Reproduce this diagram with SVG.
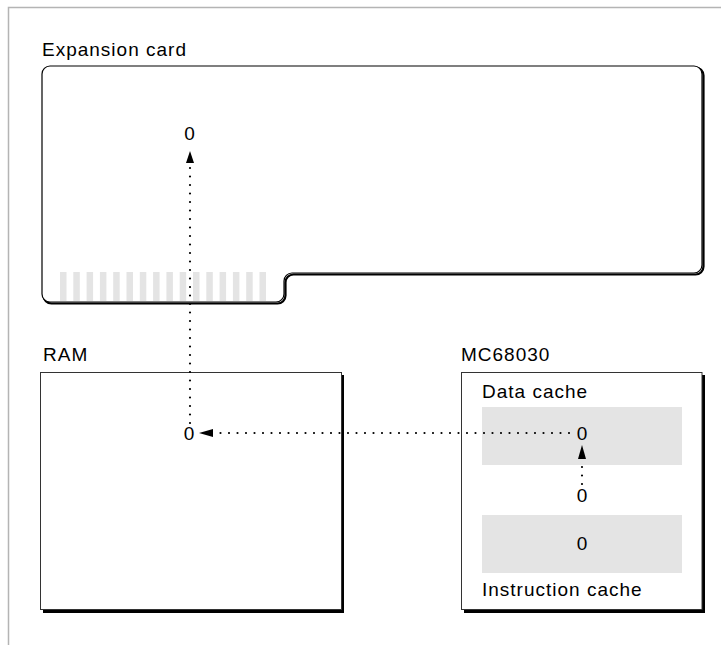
<svg xmlns="http://www.w3.org/2000/svg" width="721" height="645" viewBox="0 0 721 645">
<style>
text{font-family:"Liberation Sans",Arial,sans-serif;font-size:19px;fill:#000;letter-spacing:1px}
.num{text-anchor:middle;letter-spacing:0}
.box{fill:#fff;stroke:#333;stroke-width:1}
.shadow{fill:#000}
.shade{fill:#e4e4e4}
.stripe{fill:#e4e4e4}
.dot{fill:none;stroke:#000;stroke-width:2.2;stroke-linecap:round;stroke-dasharray:0 8.5}
</style>
<rect width="721" height="645" fill="#fff"/>
<g id="frame">
<path d="M8.5,645 V7.5 H721" fill="none" stroke="#b4b4b4" stroke-width="1.5"/>
</g>
<g id="expansion-card">
<text x="42" y="56">Expansion card</text>
<path d="M50,66 H694 A8,8 0 0 1 702,74 V265 A8,8 0 0 1 694,273 H292 A8,8 0 0 0 284,281 V294 A8,8 0 0 1 276,302 H50 A8,8 0 0 1 42,294 V74 A8,8 0 0 1 50,66 Z" transform="translate(1.5,1.5)" fill="none" stroke="#000" stroke-width="2.2"/>
<path d="M50,66 H694 A8,8 0 0 1 702,74 V265 A8,8 0 0 1 694,273 H292 A8,8 0 0 0 284,281 V294 A8,8 0 0 1 276,302 H50 A8,8 0 0 1 42,294 V74 A8,8 0 0 1 50,66 Z" fill="#fff" stroke="#000" stroke-width="1.2"/>
<g class="stripe">
<rect x="60" y="272" width="6.5" height="29"/>
<rect x="73.3" y="272" width="6.5" height="29"/>
<rect x="86.6" y="272" width="6.5" height="29"/>
<rect x="99.9" y="272" width="6.5" height="29"/>
<rect x="113.2" y="272" width="6.5" height="29"/>
<rect x="126.5" y="272" width="6.5" height="29"/>
<rect x="139.8" y="272" width="6.5" height="29"/>
<rect x="153.1" y="272" width="6.5" height="29"/>
<rect x="166.4" y="272" width="6.5" height="29"/>
<rect x="179.7" y="272" width="6.5" height="29"/>
<rect x="193" y="272" width="6.5" height="29"/>
<rect x="206.3" y="272" width="6.5" height="29"/>
<rect x="219.6" y="272" width="6.5" height="29"/>
<rect x="232.9" y="272" width="6.5" height="29"/>
<rect x="246.2" y="272" width="6.5" height="29"/>
<rect x="259.5" y="272" width="6.5" height="29"/>
</g>
<text class="num" x="189.5" y="140">0</text>
</g>
<g id="ram">
<text x="43" y="361">RAM</text>
<rect class="shadow" x="43" y="375" width="301" height="238"/>
<rect class="box" x="40.5" y="372.5" width="301" height="237"/>
<text class="num" x="189" y="440">0</text>
</g>
<g id="mc68030">
<text x="461" y="361">MC68030</text>
<rect class="shadow" x="464" y="375" width="241" height="238"/>
<rect class="box" x="461.5" y="372.5" width="240.5" height="237"/>
<text x="482" y="398">Data cache</text>
<rect class="shade" x="482" y="407" width="200" height="58"/>
<rect class="shade" x="482" y="515" width="200" height="58"/>
<text class="num" x="582" y="440">0</text>
<text class="num" x="582" y="502">0</text>
<text class="num" x="582" y="550">0</text>
<text x="482" y="596">Instruction cache</text>
</g>
<g id="connectors">
<path class="dot" d="M190,423 V163"/>
<path d="M190,151 L194,163 L186,163 Z" fill="#000"/>
<path class="dot" d="M569,433 H213"/>
<path d="M199,433 L213,429 L213,437 Z" fill="#000"/>
<path class="dot" d="M582,484 V459"/>
<path d="M582,445 L586,459 L578,459 Z" fill="#000"/>
</g>
</svg>
